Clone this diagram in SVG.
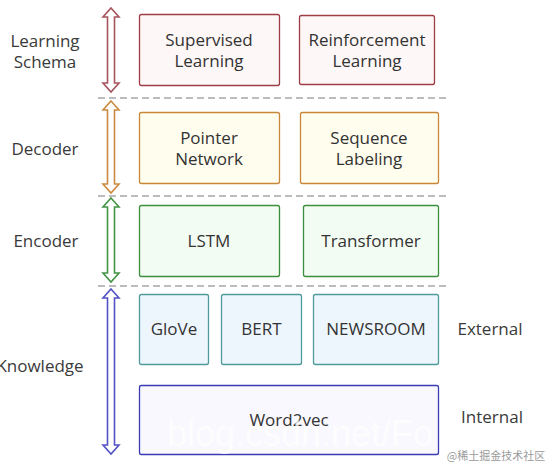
<svg xmlns="http://www.w3.org/2000/svg" width="552" height="464" viewBox="0 0 552 464">
<style>
text{font-family:"Open Sans","Noto Sans","DejaVu Sans",sans-serif;font-size:17px;fill:#333;text-anchor:middle}
.lab{fill:#3a3a3a}
.sep{stroke:#a6a6a6;stroke-width:1.6;stroke-dasharray:7,4;fill:none}
.ls rect{fill:#fdf7f7;stroke:#9e3d45;stroke-width:1.3}
.dc rect{fill:#fefdee;stroke:#c9873a;stroke-width:1.3}
.en rect{fill:#f3fcf3;stroke:#3d8e3d;stroke-width:1.3}
.ex rect{fill:#eef6fd;stroke:#4f9a9a;stroke-width:1.3}
.in rect{fill:#f8f8fe;stroke:#3b3bb5;stroke-width:1.3}
.arr{fill:#ffffff;stroke-width:1.6;stroke-linejoin:miter}
</style>
<defs>
<clipPath id="w2vclip"><rect x="100" y="385" width="338" height="70"/></clipPath>
</defs>
<rect width="552" height="464" fill="#ffffff"/>

<g id="separators">
<line class="sep" x1="98" y1="98" x2="450" y2="98"/>
<line class="sep" x1="98" y1="196" x2="450" y2="196"/>
<line class="sep" x1="98" y1="286" x2="450" y2="286"/>
</g>

<g id="connectors">
<path class="arr" stroke="#a5545c" d="M111,8 L119,17 L114.5,17 L114.5,83 L119,83 L111,92 L103,83 L107.5,83 L107.5,17 L103,17 Z"/>
<path class="arr" stroke="#cc8a40" d="M111,101 L119,110 L114.5,110 L114.5,184 L119,184 L111,193 L103,184 L107.5,184 L107.5,110 L103,110 Z"/>
<path class="arr" stroke="#449444" d="M111,198 L119,207 L114.5,207 L114.5,273 L119,273 L111,282 L103,273 L107.5,273 L107.5,207 L103,207 Z"/>
<path class="arr" stroke="#5252c4" d="M111,289 L119,298 L114.5,298 L114.5,445 L119,445 L111,454 L103,445 L107.5,445 L107.5,298 L103,298 Z"/>
</g>

<g id="labels">
<text class="lab" x="45" y="47">Learning</text>
<text class="lab" x="45" y="68">Schema</text>
<text class="lab" x="45" y="155">Decoder</text>
<text class="lab" x="46" y="247">Encoder</text>
<text class="lab" x="40" y="372">Knowledge</text>
<text class="lab" x="490" y="335">External</text>
<text class="lab" x="492" y="423">Internal</text>
</g>

<g id="supervised" class="ls">
<rect x="139.5" y="14.5" width="140" height="71" rx="2"/>
<text x="209" y="46">Supervised</text>
<text x="209" y="67">Learning</text>
</g>
<g id="reinforcement" class="ls">
<rect x="299.5" y="15.5" width="135" height="69" rx="2"/>
<text x="367" y="46">Reinforcement</text>
<text x="367" y="67">Learning</text>
</g>

<g id="pointer" class="dc">
<rect x="139.5" y="112.5" width="140" height="71" rx="2"/>
<text x="209" y="144">Pointer</text>
<text x="209" y="165">Network</text>
</g>
<g id="sequence" class="dc">
<rect x="300.5" y="112.5" width="138" height="71" rx="2"/>
<text x="369" y="144">Sequence</text>
<text x="369" y="165">Labeling</text>
</g>

<g id="lstm" class="en">
<rect x="139.5" y="205.5" width="140" height="71" rx="2"/>
<text x="209" y="247">LSTM</text>
</g>
<g id="transformer" class="en">
<rect x="303.5" y="205.5" width="135" height="71" rx="2"/>
<text x="371" y="247">Transformer</text>
</g>

<g id="glove" class="ex">
<rect x="139.5" y="294.5" width="69" height="70" rx="2"/>
<text x="174" y="335">GloVe</text>
</g>
<g id="bert" class="ex">
<rect x="221.5" y="294.5" width="80" height="70" rx="2"/>
<text x="261.5" y="335">BERT</text>
</g>
<g id="newsroom" class="ex">
<rect x="313.5" y="294.5" width="125" height="70" rx="2"/>
<text x="376" y="335">NEWSROOM</text>
</g>

<g id="word2vec" class="in">
<rect x="139.5" y="385.5" width="299" height="69" rx="2"/>
<text x="289" y="426">Word2vec</text>
</g>

<g id="watermark">
<text x="300" y="446" clip-path="url(#w2vclip)" style="font-family:'Liberation Sans',Arial,sans-serif;font-size:36px;fill:#ffffff;fill-opacity:0.75">blog.csdn.net/Fo</text>
<text x="496" y="460" style="font-family:'Noto Sans CJK SC',sans-serif;font-size:11px;fill:#9a9a9a">@稀土掘金技术社区</text>
</g>
</svg>
